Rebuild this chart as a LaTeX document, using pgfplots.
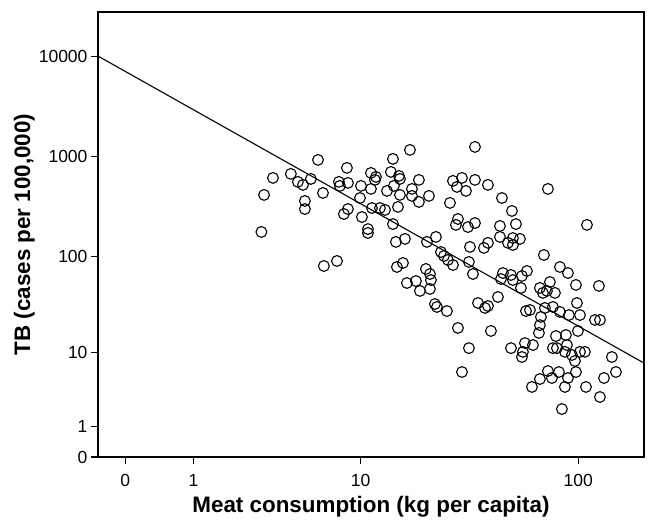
\documentclass[border=0pt]{standalone}
\usepackage{fontspec}
\setmainfont{Liberation Sans}
\usepackage{pgfplots}
\usepackage{pgfplotstable}
\pgfplotsset{compat=1.18}

% meat consumption (kg per capita) vs TB (cases per 100,000)
\pgfplotstableread{
meat tb
3.50 608
3.11 411
3.00 175
4.40 667
4.80 555
5.11 518
5.62 594
6.12 920
5.23 358
5.23 297
6.49 430
6.56 79.5
7.64 89.4
8.56 766
7.81 555
7.90 506
8.66 542
10.03 506
9.92 383
8.66 297
8.27 265
10.14 247
10.84 187
10.84 171
11.21 682
11.85 622
11.72 581
11.21 472
11.34 304
12.38 304
13.09 291
17.17 1158
34.24 1240
14.28 942
13.97 698
15.24 637
15.41 594
13.38 451
14.43 506
15.41 411
18.91 581
17.54 472
17.54 402
18.91 350
21.05 402
15.08 312
14.28 210
14.75 139
16.27 149
14.91 77.7
15.92 85.3
20.60 139
22.68 156
23.92 110
24.69 100.4
25.76 91.5
27.16 81.4
27.16 568
29.87 608
28.33 494
31.15 451
34.24 581
39.22 518
26.31 342
28.63 236
28.03 206
31.81 196
34.24 215
32.49 123.7
37.62 121
39.22 136
32.14 87.3
33.53 66.0
45.39 383
44.45 201
44.45 156
73.11 472
50.36 284
52.50 210
109.3 206
50.88 152
54.72 149
48.32 136
50.88 129.6
70.14 102.7
82.75 77.7
89.86 67.5
58.84 70.8
45.87 67.5
49.85 64.5
55.87 63.0
44.92 58.7
50.88 57.3
55.29 47.6
97.58 51.1
123.6 49.9
74.64 54.7
67.30 47.6
69.42 42.4
78.59 42.4
72.36 44.4
58.24 27.6
60.70 28.3
70.87 29.7
76.98 30.4
82.75 27.0
90.79 25.1
98.59 33.4
101.7 25.1
68.00 24.0
67.30 19.7
66.61 16.3
79.40 15.1
88.03 15.5
99.6 17.1
118.7 22.3
124.9 22.3
49.85 11.2
57.63 12.7
62.61 12.1
56.45 10.2
55.87 8.95
76.98 11.2
80.22 11.2
88.95 12.1
87.12 10.2
93.65 9.42
96.59 8.08
101.7 10.2
107.0 10.2
141.2 8.95
147.2 6.05
130.2 5.14
124.9 2.97
73.11 6.21
81.89 6.05
97.58 6.05
67.30 5.00
76.19 5.14
89.86 5.14
87.12 4.00
61.97 4.00
108.2 4.00
84.47 2.01
20.38 74.2
21.27 66.0
21.50 57.3
16.62 53.5
18.31 56.0
19.11 44.4
21.27 46.5
22.44 32.6
22.92 30.4
25.49 27.6
35.34 33.4
38.02 29.7
39.22 31.1
43.54 38.5
28.63 18.4
40.47 17.1
32.14 11.2
29.87 6.05
}\scatterdata

\pgfplotstableread{
meat tb
-0.243 10000
196 7.67
}\fitline

\begin{document}
\begin{tikzpicture}
\begin{axis}[
  scale only axis,
  width=546pt, height=445pt,
  xmin=-0.121, xmax=2.295,
  ymin=0, ymax=4.44,
  axis line style={line width=1.1pt},
  tick pos=left,
  tick align=outside,
  major tick length=7pt,
  tick style={line width=1.1pt, black},
  xtick={0,0.30103,1.04139,2.00432},
  xticklabels={0,1,10,100},
  ytick={0,0.30103,1.04139,2.00432,3.00043,4.00004},
  yticklabels={0,1,10,100,1000,10000},
  ticklabel style={font=\fontsize{17.5}{20}\selectfont},
  xticklabel style={yshift=-7pt},
  xlabel={Meat consumption (kg per capita)},
  ylabel={TB (cases per 100,000)},
  label style={font=\bfseries\fontsize{22.4}{26}\selectfont},
  xlabel style={at={(axis description cs:0.5,-0.112)}, anchor=center},
  ylabel style={at={(axis description cs:-0.135,0.5)}, anchor=center, rotate=0},
  clip=false,
]
\addplot[only marks, mark=o, mark size=5.4pt, mark options={line width=1.1pt, black}]
  table[x expr={ln(\thisrow{meat}+1)/ln(10)}, y expr={ln(\thisrow{tb}+1)/ln(10)}] {\scatterdata};
\addplot[black, line width=1.1pt]
  table[x expr={ln(\thisrow{meat}+1)/ln(10)}, y expr={ln(\thisrow{tb}+1)/ln(10)}] {\fitline};
\end{axis}
\pgfresetboundingbox
\useasboundingbox (-98pt,-73pt) rectangle (560pt,457pt);
\end{tikzpicture}
\end{document}
